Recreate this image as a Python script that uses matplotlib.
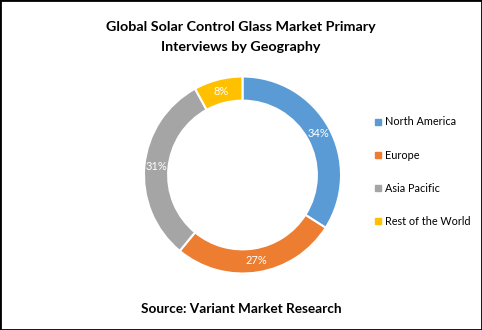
import matplotlib
matplotlib.use("Agg")
import matplotlib.pyplot as plt
from matplotlib.lines import Line2D
from matplotlib.patches import Rectangle

regions = ["North America", "Europe", "Asia Pacific", "Rest of the World"]
shares = [34, 27, 31, 8]
colors = ["#5B9BD5", "#ED7D31", "#A5A5A5", "#FFC000"]

plt.rcParams["font.family"] = ["Lato", "DejaVu Sans"]

W, H = 482, 330
fig = plt.figure(figsize=(W / 100, H / 100), dpi=100)

# donut axes: centre (242, 175) px, outer radius ~100 px
cx, cy, r = 242.5, 175, 99.5
ax = fig.add_axes([(cx - r) / W, (H - cy - r) / H, 2 * r / W, 2 * r / H])
wedges, _, autotexts = ax.pie(
    shares, colors=colors, startangle=90, counterclock=False,
    radius=1.0, pctdistance=0.88,
    autopct=lambda p: f"{round(p)}%",
    wedgeprops=dict(width=0.245, edgecolor="white", linewidth=1.5),
    textprops=dict(color="white", fontsize=8),
)
ax.set_xlim(-1.01, 1.01)
ax.set_ylim(-1.01, 1.01)
ax.set_aspect("equal")
ax.axis("off")

fig.text(0.5, 1 - 27 / H, "Global Solar Control Glass Market Primary",
         ha="center", va="center", fontsize=10.3, fontweight="bold")
fig.text(0.5, 1 - 47 / H, "Interviews by Geography",
         ha="center", va="center", fontsize=10.3, fontweight="bold")
fig.text(0.5, 1 - 309 / H, "Source: Variant Market Research",
         ha="center", va="center", fontsize=9.8, fontweight="bold")

handles = [Line2D([], [], linestyle="none", marker="s", markersize=4,
                  markerfacecolor=c, markeredgecolor=c) for c in colors]
fig.legend(handles, regions, loc="upper left",
           bbox_to_anchor=(370 / W, 1 - 112 / H), frameon=False,
           fontsize=7.8, labelspacing=2.05, handlelength=0.6,
           handletextpad=0.4, borderaxespad=0)

fig.patches.append(Rectangle((0, 0), 1, 1, transform=fig.transFigure,
                             fill=False, edgecolor="black", linewidth=2))

fig.savefig("out.png", dpi=100)
